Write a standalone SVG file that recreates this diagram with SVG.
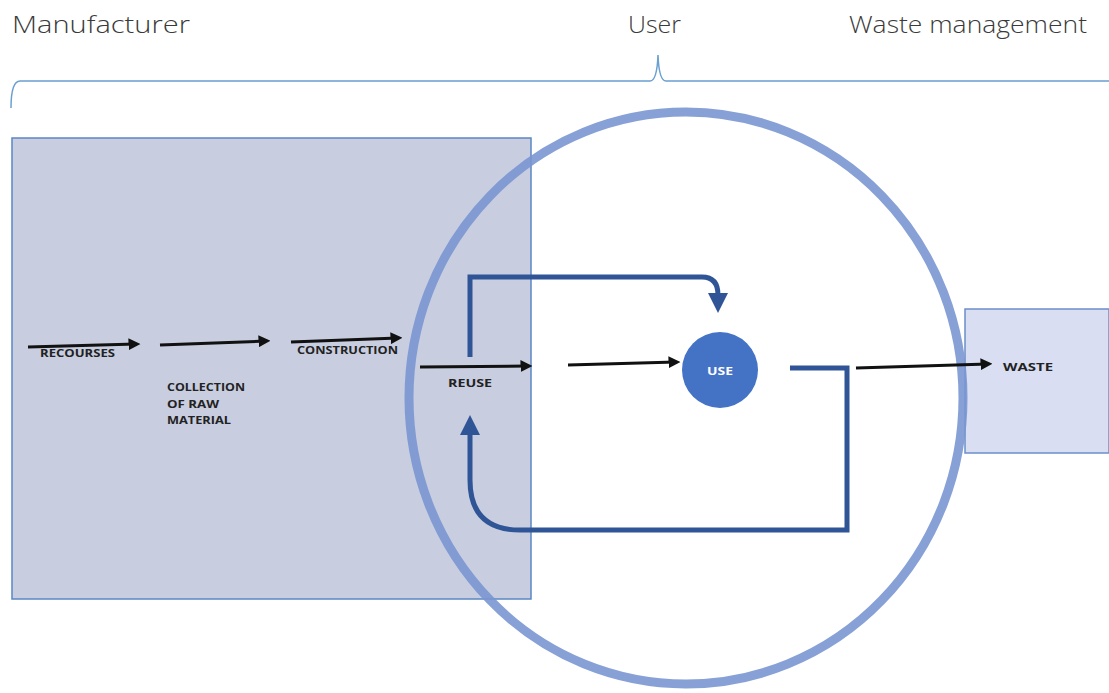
<svg xmlns="http://www.w3.org/2000/svg" width="1109" height="693" viewBox="0 0 1109 693">
<defs>
<style>
.hdr{font-family:"Open Sans","Liberation Sans",sans-serif;font-size:23px;fill:#3a3a3a;font-weight:300}
.lbl{font-family:"Open Sans","Liberation Sans",sans-serif;font-size:10.5px;font-weight:700;fill:#222}
.blk{stroke:#111;stroke-width:3;fill:none;marker-end:url(#ah)}
.blu{stroke:#2f5597;stroke-width:5;fill:none}
</style>
<marker id="ah" markerWidth="4" markerHeight="4" refX="2.5" refY="2" orient="auto" markerUnits="strokeWidth">
<path d="M0,0 L4,2 L0,4 Z" fill="#111"/>
</marker>
<marker id="bh" markerWidth="4" markerHeight="4" refX="2" refY="2" orient="auto" markerUnits="strokeWidth">
<path d="M0,0 L4,2 L0,4 Z" fill="#2f5597"/>
</marker>
</defs>
<rect width="1109" height="693" fill="#ffffff"/>
<g id="headers">
<text class="hdr" x="12" y="33" textLength="178" lengthAdjust="spacingAndGlyphs">Manufacturer</text>
<text class="hdr" x="628" y="33" textLength="53" lengthAdjust="spacingAndGlyphs">User</text>
<text class="hdr" x="849" y="33" textLength="238" lengthAdjust="spacingAndGlyphs">Waste management</text>
</g>
<g id="brace">
<path d="M11,108 Q11,81 20,81 L650,81 Q657,81 658,55 Q659,81 666,81 L1109,81" fill="none" stroke="#6a9fd0" stroke-width="1.5"/>
</g>
<g id="manufacturer">
<rect x="12" y="138" width="519" height="461" fill="#c8cee0" stroke="#5b87c5" stroke-width="1.5"/>
</g>
<g id="waste-box">
<rect x="965" y="309" width="144" height="144" fill="#d9def2" stroke="#6b8fc7" stroke-width="1.5"/>
</g>
<g id="user-circle">
<ellipse cx="686" cy="398" rx="277" ry="286" fill="none" stroke="#7a96d2" stroke-opacity="0.9" stroke-width="9"/>
</g>
<g id="use-node">
<circle cx="720" cy="370" r="38" fill="#4472c4"/>
<text x="707" y="375" textLength="26" lengthAdjust="spacingAndGlyphs" font-family="Open Sans, Liberation Sans, sans-serif" font-size="10.5" font-weight="700" fill="#ffffff">USE</text>
</g>
<g id="labels">
<text class="lbl" x="40" y="357" textLength="75" lengthAdjust="spacingAndGlyphs">RECOURSES</text>
<text class="lbl" x="167" y="391" textLength="78" lengthAdjust="spacingAndGlyphs">COLLECTION</text>
<text class="lbl" x="167" y="408" textLength="52" lengthAdjust="spacingAndGlyphs">OF RAW</text>
<text class="lbl" x="167" y="424" textLength="64" lengthAdjust="spacingAndGlyphs">MATERIAL</text>
<text class="lbl" x="297" y="354" textLength="101" lengthAdjust="spacingAndGlyphs">CONSTRUCTION</text>
<text class="lbl" x="448" y="387" textLength="44" lengthAdjust="spacingAndGlyphs">REUSE</text>
<text class="lbl" x="1003" y="371" textLength="50" lengthAdjust="spacingAndGlyphs">WASTE</text>
</g>
<g id="connectors">
<line class="blk" x1="28" y1="347" x2="136" y2="344"/>
<line class="blk" x1="160" y1="345" x2="266" y2="341"/>
<line class="blk" x1="291" y1="342" x2="398" y2="338"/>
<line class="blk" x1="420" y1="367" x2="528" y2="366"/>
<line class="blk" x1="568" y1="365" x2="676" y2="362"/>
<line class="blk" x1="856" y1="368" x2="988" y2="364"/>
<path class="blu" d="M470,357 L470,277 L702,277 Q718,277 718,295 L718,303" marker-end="url(#bh)"/>
<path class="blu" d="M790,368 L847,368 L847,530 L520,530 Q470,530 470,480 L470,425" marker-end="url(#bh)"/>
</g>
</svg>
